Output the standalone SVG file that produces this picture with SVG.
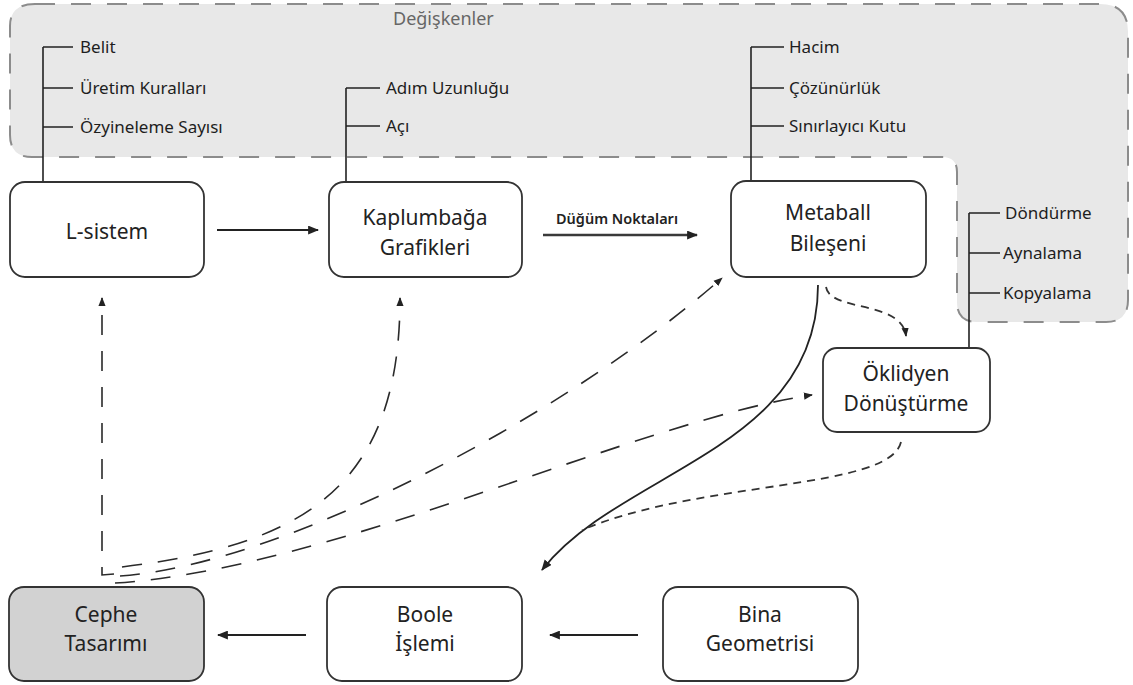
<svg xmlns="http://www.w3.org/2000/svg" width="1133" height="685" viewBox="0 0 1133 685">
  <defs>
    <style>
      .node rect { fill: #ffffff; stroke: #333333; stroke-width: 1.8; }
      .node.shaded rect { fill: #d2d2d2; }
      .label { font-family: "Noto Sans", "Open Sans", sans-serif; font-size: 21px; fill: #222222; text-anchor: middle; }
      .param { font-family: "Noto Sans", "Open Sans", sans-serif; font-size: 17px; fill: #1e1e1e; }
      .tree { fill: none; stroke: #222222; stroke-width: 1.6; }
      .solid { fill: none; stroke: #222222; stroke-width: 1.8; }
      .dash-long { fill: none; stroke: #2a2a2a; stroke-width: 1.6; stroke-dasharray: 20 16; }
      .dash-short { fill: none; stroke: #333333; stroke-width: 1.8; stroke-dasharray: 8 6; }
    </style>
    <marker id="head" viewBox="0 0 10 8" refX="9" refY="4" markerWidth="11" markerHeight="9" markerUnits="userSpaceOnUse" orient="auto">
      <path d="M0,0 L10,4 L0,8 Z" fill="#222222"/>
    </marker>
    <marker id="head-small" viewBox="0 0 10 8" refX="9" refY="4" markerWidth="9" markerHeight="8" markerUnits="userSpaceOnUse" orient="auto">
      <path d="M0,0 L10,4 L0,8 Z" fill="#222222"/>
    </marker>
  </defs>

  <rect width="1133" height="685" fill="#ffffff"/>

  <!-- variables area -->
  <g id="variables">
    <path d="M35,4 H1100 Q1128,4 1128,32 V300 Q1128,322 1106,322 H977 Q957,322 957,302 V172 Q957,157 942,157 H32 Q10,157 10,135 V26 Q10,4 35,4 Z"
          fill="#e8e8e8" stroke="#8c8c8c" stroke-width="2" stroke-dasharray="20 16"/>
    <text x="393" y="25" font-family="Noto Sans, Open Sans, sans-serif" font-size="18" fill="#666666">Değişkenler</text>
  </g>

  <!-- parameter trees -->
  <g id="params-lsystem">
    <path class="tree" d="M43,182 V47 M43,47 H73 M43,88 H73 M43,127 H73"/>
    <text class="param" x="80" y="53">Belit</text>
    <text class="param" x="80" y="94">Üretim Kuralları</text>
    <text class="param" x="80" y="133">Özyineleme Sayısı</text>
  </g>
  <g id="params-turtle">
    <path class="tree" d="M346,182 V88 M346,88 H380 M346,126 H380"/>
    <text class="param" x="386" y="94">Adım Uzunluğu</text>
    <text class="param" x="386" y="132">Açı</text>
  </g>
  <g id="params-metaball">
    <path class="tree" d="M751,181 V47 M751,47 H784 M751,88 H784 M751,126 H784"/>
    <text class="param" x="789" y="53">Hacim</text>
    <text class="param" x="789" y="94">Çözünürlük</text>
    <text class="param" x="789" y="132">Sınırlayıcı Kutu</text>
  </g>
  <g id="params-euclid">
    <path class="tree" d="M969,348 V213 M969,213 H1000 M969,253 H1000 M969,293 H1000"/>
    <text class="param" x="1005" y="219">Döndürme</text>
    <text class="param" x="1003" y="259">Aynalama</text>
    <text class="param" x="1003" y="299">Kopyalama</text>
  </g>

  <!-- connectors -->
  <g id="connectors">
    <path class="solid" d="M217,230 H318" marker-end="url(#head)"/>
    <path d="M543,235 H697" fill="none" stroke="#3a3a3a" stroke-width="2.4" marker-end="url(#head)"/>
    <text x="617" y="224" font-family="Noto Sans, Open Sans, sans-serif" font-size="13.5" font-weight="600" fill="#222222" text-anchor="middle" textLength="122" lengthAdjust="spacingAndGlyphs">Düğüm Noktaları</text>
    <path class="solid" d="M306,635 H218" marker-end="url(#head)"/>
    <path class="solid" d="M638,635 H550" marker-end="url(#head)"/>
    <path class="solid" d="M818,285 C818,450 620,470 542,570" marker-end="url(#head)"/>
    <path class="dash-long" d="M114,574 L102,575 L102,298" marker-end="url(#head-small)"/>
    <path class="dash-long" d="M122,567 C300,545 400,490 400,298" marker-end="url(#head-small)"/>
    <path class="dash-long" d="M120,576 C280,565 560,420 722,278" marker-end="url(#head-small)"/>
    <path class="dash-long" d="M115,583 C330,570 640,420 812,395" marker-end="url(#head-small)"/>
    <path class="dash-short" d="M826,287 C830,312 902,300 906,336" marker-end="url(#head-small)"/>
    <path class="dash-short" d="M901,442 C890,490 700,480 582,530"/>
  </g>

  <!-- nodes -->
  <g id="lsystem" class="node">
    <rect x="10" y="182" width="194" height="95" rx="15"/>
    <text class="label" x="107" y="239">L-sistem</text>
  </g>
  <g id="turtle" class="node">
    <rect x="329" y="182" width="193" height="95" rx="15"/>
    <text class="label" x="425" y="225">Kaplumbağa</text>
    <text class="label" x="425" y="255">Grafikleri</text>
  </g>
  <g id="metaball" class="node">
    <rect x="731" y="181" width="195" height="96" rx="15"/>
    <text class="label" x="828" y="220">Metaball</text>
    <text class="label" x="828" y="251">Bileşeni</text>
  </g>
  <g id="euclid" class="node">
    <rect x="823" y="348" width="167" height="84" rx="14"/>
    <text class="label" x="906" y="381">Öklidyen</text>
    <text class="label" x="906" y="411">Dönüştürme</text>
  </g>
  <g id="facade" class="node shaded">
    <rect x="9" y="587" width="195" height="94" rx="15"/>
    <text class="label" x="106" y="622">Cephe</text>
    <text class="label" x="106" y="651">Tasarımı</text>
  </g>
  <g id="boolean" class="node">
    <rect x="327" y="587" width="195" height="94" rx="15"/>
    <text class="label" x="425" y="622">Boole</text>
    <text class="label" x="425" y="651">İşlemi</text>
  </g>
  <g id="building" class="node">
    <rect x="663" y="587" width="195" height="94" rx="15"/>
    <text class="label" x="760" y="622">Bina</text>
    <text class="label" x="760" y="651">Geometrisi</text>
  </g>
</svg>
